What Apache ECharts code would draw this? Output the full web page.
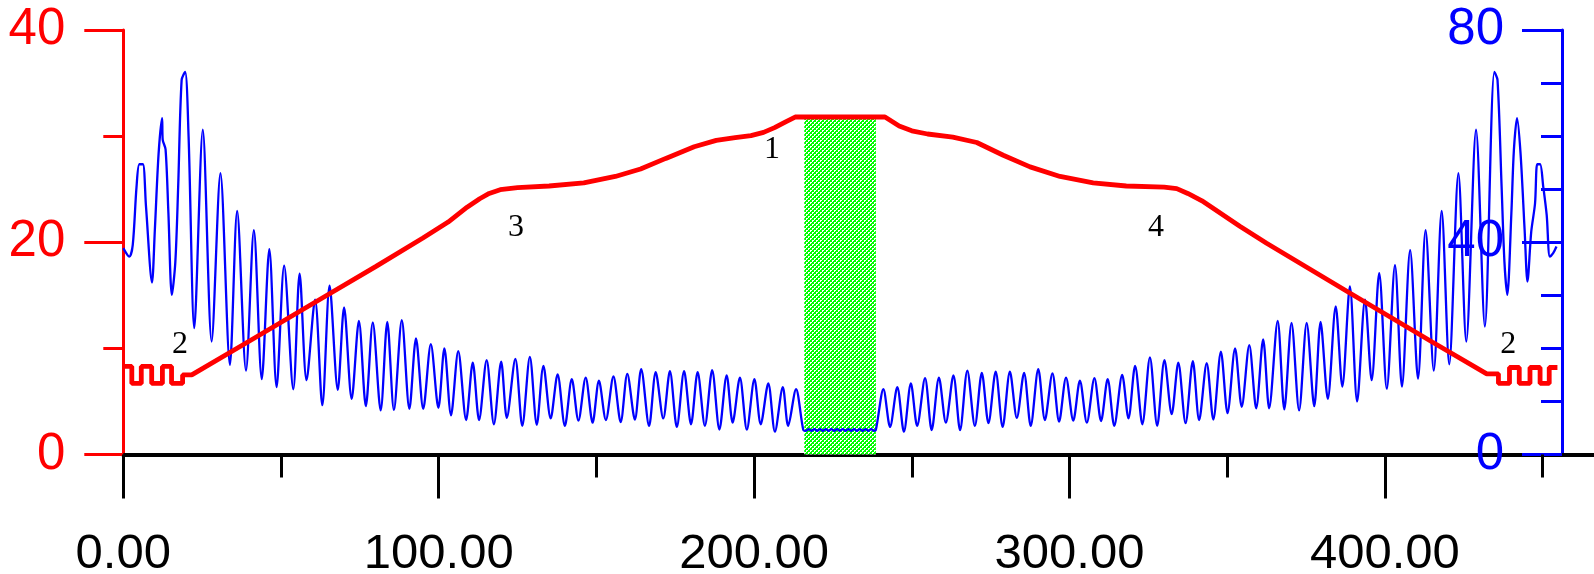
<!DOCTYPE html>
<html>
<head>
<meta charset="utf-8">
<script src="https://cdn.jsdelivr.net/npm/echarts@6/dist/echarts.min.js"></script>
<style>
html,body{margin:0;padding:0;background:#fff;}
#chart{width:1594px;height:574px;}
</style>
</head>
<body>
<div id="chart"></div>
<script>
// ---- data ----
const xTickLabels = [0, 100, 200, 300, 400];
const leftTicks = [0, 20, 40];
const rightTicks = [0, 40, 80];

// red profile (left axis)
const redLine = [
  [0,8.3],[2.7,8.3],[2.7,6.7],[5.7,6.7],[5.7,8.3],[9.0,8.3],[9.0,6.7],[12.4,6.7],[12.4,8.3],
  [15.3,8.3],[15.3,6.7],[18.8,6.7],[18.8,7.5],[21.7,7.5],
  [40,10.7],[60,14.2],[80,17.7],[95,20.4],[103,21.9],[109,23.3],[113,24.1],[116,24.6],
  [119.5,24.95],[125,25.15],[135,25.3],[146,25.6],[156,26.2],[164,26.9],[172,27.9],
  [181,29.0],[188,29.6],[194,29.85],[199,30.05],[203,30.35],[206.5,30.8],[210,31.35],[213,31.8],
  [241.5,31.8],[246,30.95],[250,30.5],[255,30.2],[263,29.9],[270.6,29.4],[279,28.2],
  [287.5,27.1],[297,26.2],[307.5,25.6],[318,25.3],[330,25.2],[334,25.05],[337.5,24.6],
  [342,23.9],[346,23.1],[354,21.5],[362.5,19.9],[389,15.2],[415,10.6],[432.3,7.6],
  [436,7.6],[436,6.7],[439.5,6.7],[439.5,8.2],[442.6,8.2],[442.6,6.7],[446,6.7],
  [446,8.2],[449.2,8.2],[449.2,6.7],[452.1,6.7],[452.1,8.2],[454.7,8.2]
];

// blue oscillation (right axis)
const blueLeft = [
  [0,38.9],[1.9,37.3],[3.0,39.5],[4.2,50.5],[5.1,54.7],[6.2,54.7],[7.2,46.7],[9.1,32.4],
  [10.0,42.3],[11.2,56.8],[12.3,63.4],[12.5,59.3],[13.4,57.5],[14.3,45.5],[15.4,30.1],
  [16.5,36.3],[17.4,50.5],[18.5,70.6],[19.6,72.1],[20.7,59.9],[22.5,23.8],[25.2,61.2],
  [28.0,21.3],[30.8,53.0],[33.8,16.9],[36.1,45.9],[38.9,15.8],[41.4,42.3],[43.9,14.2],
  [46.3,38.7],[48.6,12.7],[51.0,35.6],[53.9,12.3],[55.9,34.1],[58.1,14.0],[60.8,29.2],
  [63.1,9.3],[65.4,31.8],[68.0,12.2],[70.0,27.7],[72.4,10.5],[74.7,25.2],[76.9,9.1],
  [79.1,24.9],[81.6,8.3],[83.7,25.0],[85.8,8.4],[88.3,25.3],[90.7,8.6],[92.8,21.9],
  [95.1,8.6],[97.5,20.8],[99.9,8.8],[101.8,20.0],[103.9,7.4],[106.2,19.5],[108.7,6.5],
  [110.8,17.3],[112.8,6.5],[115.2,17.8],[117.5,5.7],[119.8,17.5],[121.6,6.9],[124.3,18.0],
  [126.5,5.4],[128.9,18.4],[131.1,5.6],[133.2,16.7],[135.5,6.8],[137.7,15.1],[140.0,5.4],
  [142.2,14.2],[144.3,6.4],[146.6,14.5],[148.8,6.0],[150.8,13.9],[153.0,6.5],[155.4,14.7],
  [157.7,6.1],[159.8,15.2],[162.2,6.6],[164.2,16.1],[166.7,5.4],[168.8,15.5],[171.2,6.8],
  [173.3,15.7],[175.5,5.2],[177.8,15.7],[180.0,5.7],[182.1,15.5],[184.4,5.4],[186.7,15.9],
  [189.0,4.7],[191.3,14.9],[193.2,6.0],[195.5,14.5],[197.7,4.7],[200.1,14.2],[202.1,5.7],
  [204.5,13.4],[206.6,4.3],[209.1,12.7],[210.8,5.4],[213.3,12.3],[215.6,4.6]
];
const blueFlat = [
  [216.4,4.45],[217.3,4.8],[218.2,4.45],[219.1,4.8],[220.0,4.45],[220.9,4.8],[221.8,4.45],
  [222.7,4.8],[223.6,4.45],[224.5,4.8],[225.4,4.45],[226.3,4.8],[227.2,4.45],[228.1,4.8],
  [229.0,4.45],[229.9,4.8],[230.8,4.45],[231.7,4.8],[232.6,4.45],[233.5,4.8],[234.4,4.45],
  [235.3,4.8],[236.2,4.45],[237.1,4.8],[238.0,4.45],[238.6,4.6]
];
const blueRight = [
  [241.0,12.3],[243.1,5.2],[245.4,12.7],[247.5,4.3],[249.7,13.4],[251.7,5.4],[254.2,14.4],
  [256.3,4.6],[258.6,14.5],[260.8,6.0],[263.2,14.9],[265.3,4.6],[267.6,15.8],[270.0,5.4],
  [272.2,15.4],[274.3,5.9],[276.6,15.6],[278.8,5.2],[281.1,15.6],[283.3,6.9],[285.6,15.4],
  [287.7,5.4],[290.1,16.1],[292.2,6.5],[294.6,15.3],[296.7,6.2],[298.9,14.5],[301.2,6.4],
  [303.3,13.9],[305.5,6.0],[307.9,14.4],[310.0,6.3],[312.1,14.2],[314.2,5.4],[316.7,15.0],
  [318.7,6.8],[320.8,16.7],[323.1,5.7],[325.5,18.3],[327.8,5.4],[330.1,17.8],[332.4,7.6],
  [334.5,17.3],[336.8,5.9],[339.1,17.6],[341.1,6.5],[343.5,17.2],[345.6,6.6],[348.0,19.4],
  [350.1,7.8],[352.5,20.0],[354.6,9.0],[357.0,20.6],[359.2,8.7],[361.4,21.7],[363.3,8.7],
  [366.0,25.2],[368.1,8.5],[370.4,24.8],[372.8,8.3],[375.2,24.8],[377.6,9.1],[379.6,25.0],
  [381.9,10.5],[384.4,27.9],[386.5,12.8],[388.9,31.7],[391.2,10.0],[393.7,29.2],[395.8,14.0],
  [398.2,34.2],[400.6,12.4],[403.2,35.7],[405.4,12.8],[408.0,38.5],[410.5,14.3],[412.9,42.3],
  [415.5,15.8],[418.0,45.9],[420.4,17.0],[423.3,53.0],[425.8,21.3],[428.9,61.2],[431.7,24.1],
  [434.7,72.1],[435.7,70.6],[437.0,50.5],[437.9,36.3],[438.8,30.1],[440.1,45.5],[440.9,57.4],
  [441.9,63.4],[443.0,56.8],[444.3,42.3],[445.2,32.6],[446.4,42.0],[447.6,47.3],[448.3,54.7],
  [449.2,54.7],[450.2,50.5],[451.3,45.1],[452.3,37.3],[453.4,38.0],[454.4,39.2]
];
const blueLine = blueLeft.concat(blueFlat, blueRight);

// shaded block
const blockX = [215.9, 238.6];
const blockY = [0, 31.8];

// annotations
const annoText = ['1', '3', '4', '2', '2'];
const annoX = [205.7, 124.5, 327.4, 18.0, 439.1];
const annoY = [28.7, 21.4, 21.4, 10.4, 10.4];

// ---- crosshatch pattern ----
const pat = document.createElement('canvas');
pat.width = 4; pat.height = 4;
const pctx = pat.getContext('2d');
pctx.fillStyle = '#00ff00';
pctx.fillRect(0, 0, 4, 4);
pctx.fillStyle = '#ffffff';
[[0,0],[1,0],[0,1],[2,2],[3,2],[2,3]].forEach(p => pctx.fillRect(p[0], p[1], 1, 1));

const chart = echarts.init(document.getElementById('chart'), null, {renderer: 'canvas'});
const sans = "'Liberation Sans', Arial, sans-serif";

chart.setOption({
  animation: false,
  backgroundColor: '#ffffff',
  grid: {left: 123.3, right: -106.3, top: 30, bottom: 119.5, containLabel: false, outerBoundsMode: 'none'},
  xAxis: {
    type: 'value', min: 0, max: 500, interval: 100,
    axisLine: {show: true, lineStyle: {color: '#000', width: 4}},
    axisTick: {show: true, length: 44, lineStyle: {color: '#000', width: 3}},
    minorTick: {show: true, splitNumber: 2, length: 23, lineStyle: {color: '#000', width: 3}},
    splitLine: {show: false},
    axisLabel: {
      show: true, margin: 75, color: '#000', fontSize: 49, fontFamily: sans,
      formatter: v => (xTickLabels.indexOf(v) >= 0 ? v.toFixed(2) : '')
    }
  },
  yAxis: [
    {
      type: 'value', min: 0, max: 40, interval: 20, position: 'left',
      axisLine: {show: true, lineStyle: {color: '#ff0000', width: 3}},
      axisTick: {show: true, length: 39, lineStyle: {color: '#ff0000', width: 3}},
      minorTick: {show: true, splitNumber: 2, length: 20, lineStyle: {color: '#ff0000', width: 3}},
      splitLine: {show: false},
      axisLabel: {
        margin: 58, color: '#ff0000', fontSize: 51, fontFamily: sans,
        formatter: v => (leftTicks.indexOf(v) >= 0 ? String(v) : '')
      }
    },
    {
      type: 'value', min: 0, max: 80, interval: 40, position: 'right', offset: -138.3,
      axisLine: {show: true, lineStyle: {color: '#0000ff', width: 3}},
      axisTick: {show: true, inside: true, length: 40, lineStyle: {color: '#0000ff', width: 3}},
      minorTick: {show: true, splitNumber: 4, length: 21, lineStyle: {color: '#0000ff', width: 3}},
      splitLine: {show: false},
      axisLabel: {
        inside: true, margin: 58, color: '#0000ff', fontSize: 51, fontFamily: sans,
        formatter: v => (rightTicks.indexOf(v) >= 0 ? String(v) : '')
      }
    }
  ],
  series: [
    {
      type: 'line', name: 'profile', yAxisIndex: 0, data: redLine,
      showSymbol: false, symbol: 'none', smooth: false, clip: false, z: 4,
      lineStyle: {color: '#ff0000', width: 4.8},
      markArea: {
        silent: true, z: 1,
        itemStyle: {color: {image: pat, repeat: 'repeat'}, borderWidth: 0, opacity: 1},
        data: [[{xAxis: blockX[0], yAxis: blockY[0]}, {xAxis: blockX[1], yAxis: blockY[1]}]]
      }
    },
    {
      type: 'line', name: 'signal', yAxisIndex: 1, data: blueLine,
      showSymbol: false, symbol: 'none', smooth: 0.3, clip: false, z: 3,
      lineStyle: {color: '#0000ff', width: 2.3}
    },
    {
      type: 'scatter', name: 'labels', yAxisIndex: 0, z: 5, silent: true,
      symbol: 'circle', symbolSize: 1, itemStyle: {color: '#ffffff', opacity: 1},
      data: annoText.map((t, i) => ({name: t, value: [annoX[i], annoY[i]]})),
      label: {
        show: true, position: 'inside', formatter: p => p.name, opacity: 1,
        color: '#000000', fontSize: 32, textBorderWidth: 0,
        fontFamily: "'Liberation Serif', 'Times New Roman', serif"
      }
    }
  ]
});
</script>
</body>
</html>
